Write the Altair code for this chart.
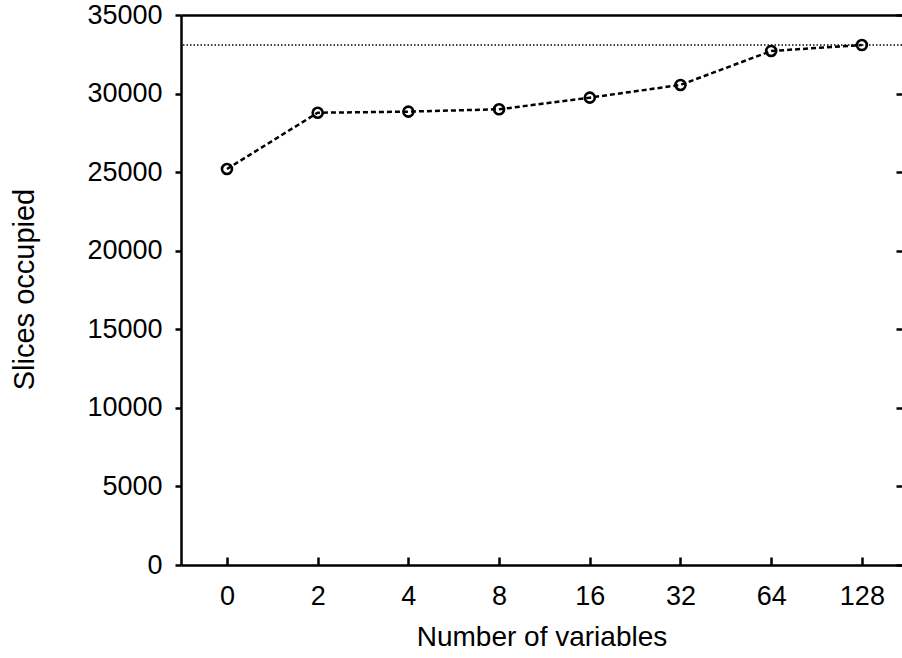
import altair as alt
import pandas as pd

# Data
variables = ["0", "2", "4", "8", "16", "32", "64", "128"]
slices = [25200, 28780, 28850, 29000, 29740, 30550, 32710, 33090]
capacity = [33090]
y_ticks = [0, 5000, 10000, 15000, 20000, 25000, 30000, 35000]

df = pd.DataFrame({"vars": variables, "slices": slices})
cap_df = pd.DataFrame({"cap": capacity})

FONT = "Liberation Sans"

x_scale = alt.Scale(type="point", domain=variables, padding=0.4746, align=0.534)
y_scale = alt.Scale(domain=[0, 35000], nice=False, zero=True)

# main line with main axes (bottom labels/title, left ticks/labels/title)
line = alt.Chart(df).mark_line(
    color="black", strokeWidth=2.5, strokeDash=[5, 3]
).encode(
    x=alt.X("vars:N", sort=variables, scale=x_scale,
            axis=alt.Axis(orient="bottom", title="Number of variables",
                          domain=True, domainColor="black", domainWidth=2.5,
                          ticks=False, labelAngle=0, labelPadding=18,
                          labelFont=FONT, labelFontSize=27, labelColor="black",
                          titleFont=FONT, titleFontSize=28, titleColor="black",
                          titleFontWeight="normal", titleBaseline="alphabetic",
                          titleY=80, grid=False)),
    y=alt.Y("slices:Q", scale=y_scale,
            axis=alt.Axis(orient="left", title="Slices occupied", values=y_ticks,
                          format="d",
                          domain=True, domainColor="black", domainWidth=2.5,
                          ticks=True, tickSize=6, tickWidth=2.5, tickColor="black",
                          labelPadding=13, labelFont=FONT, labelFontSize=27,
                          labelColor="black", titleFont=FONT, titleFontSize=29,
                          titleColor="black", titleFontWeight="normal",
                          titleAngle=270, titleAlign="center",
                          titleBaseline="alphabetic", titleX=-148, titleY=274,
                          grid=False)),
)

# markers carrying inward tick axes (bottom and right)
points = alt.Chart(df).mark_point(
    shape="circle", filled=False, color="black", size=100, strokeWidth=2.6,
    opacity=1
).encode(
    x=alt.X("vars:N", sort=variables, scale=x_scale,
            axis=alt.Axis(orient="bottom", offset=-8, domain=False, labels=False,
                          ticks=True, tickSize=8, tickWidth=2.5, tickColor="black",
                          title=None, grid=False)),
    y=alt.Y("slices:Q", scale=y_scale,
            axis=alt.Axis(orient="right", offset=-6, values=y_ticks, domain=False,
                          labels=False, ticks=True, tickSize=6, tickWidth=2.5,
                          tickColor="black", title=None, grid=False)),
)

# invisible copy carrying the top frame line
top = alt.Chart(df).mark_point(opacity=0).encode(
    x=alt.X("vars:N", sort=variables, scale=x_scale,
            axis=alt.Axis(orient="top", domain=True, domainColor="black",
                          domainWidth=2.5, labels=False, ticks=False, title=None,
                          grid=False)),
    y=alt.Y("slices:Q", scale=y_scale, axis=None),
)

# dotted capacity line
cap = alt.Chart(cap_df).mark_rule(
    color="black", strokeWidth=1.5, strokeDash=[1.5, 2]
).encode(
    y=alt.Y("cap:Q", scale=y_scale, axis=None),
)

chart = alt.layer(cap, line, points, top).resolve_axis(
    x="independent", y="independent"
).properties(
    width=721,
    height=550,
    autosize=alt.AutoSizeParams(type="none"),
    padding={"left": 181, "top": 15, "right": 0, "bottom": 93},
    background="white",
).configure_view(stroke=None)

chart.save("out.html", embed_options={"renderer": "svg", "actions": False})
